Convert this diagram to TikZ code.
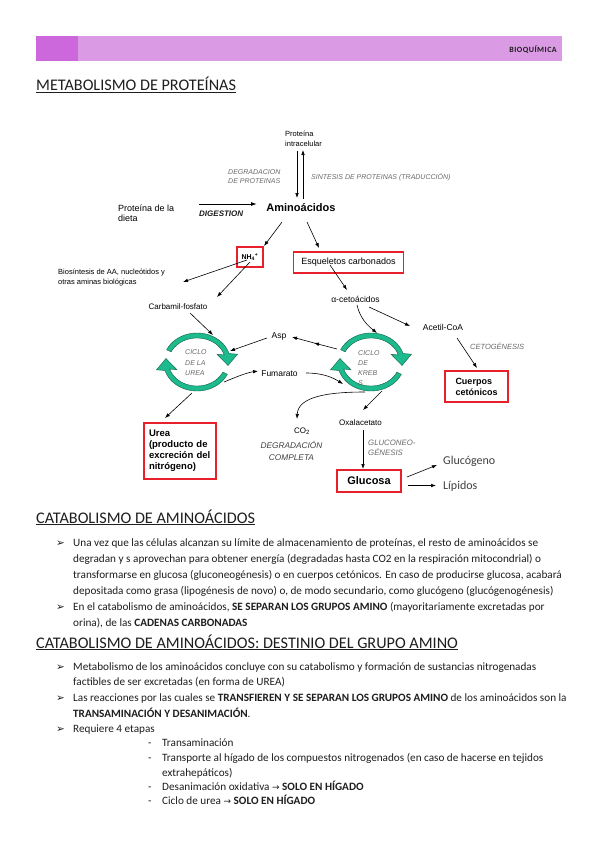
\documentclass[tikz,border=0pt]{standalone}
\usepackage{fontspec}
\setmainfont{Carlito}
\newfontfamily\arial{Liberation Sans}
\newfontfamily\dejavu{DejaVu Sans}
\usetikzlibrary{arrows.meta}
\definecolor{barc}{RGB}{218,155,228}
\definecolor{bardark}{RGB}{204,104,220}
\definecolor{boxred}{RGB}{232,32,42}
\definecolor{ringg}{RGB}{28,186,140}
\definecolor{ringd}{RGB}{20,95,70}
\definecolor{labg}{RGB}{105,105,105}
\definecolor{txt}{RGB}{30,30,30}
\tikzset{
 lbl/.style={font=\arial\fontsize{8.5}{10}\selectfont, inner sep=0pt},
 lbls/.style={font=\arial\fontsize{7.5}{10}\selectfont, inner sep=0pt, align=left},
 itl/.style={font=\arial\itshape\fontsize{7}{9}\selectfont, text=labg, inner sep=0pt, align=left},
 boxt/.style={draw=boxred, line width=1.2pt, fill=white, inner sep=0pt, font=\arial\bfseries\fontsize{9.5}{11}\selectfont},
 arr/.style={line width=0.6pt, -{Latex[length=5pt,width=3.6pt]}},
 body/.style={anchor=base west, inner sep=0pt, font=\fontsize{11.2}{13}\selectfont, text=txt},
 head/.style={anchor=base west, inner sep=0pt, font=\fontsize{16.2}{19}\selectfont, text=txt},
 bul/.style={anchor=base west, inner sep=0pt, font=\dejavu\fontsize{10.5}{12}\selectfont, text=txt},
 ring/.pic={
  \filldraw[fill=ringg, draw=ringd, line width=0.4pt]
    plot[domain=155:17, samples=40] ({33.5*cos(\x)},{-29*sin(\x)})
    -- (40.5,-7.8) -- (31,3.5) -- (20,-7.8)
    -- plot[domain=17:155, samples=40] ({28.5*cos(\x)},{-24*sin(\x)}) -- cycle;
  \filldraw[fill=ringg, draw=ringd, line width=0.4pt]
    plot[domain=-25:-163, samples=40] ({33.5*cos(\x)},{-29*sin(\x)})
    -- (-40.5,7.8) -- (-31,-3.5) -- (-20,7.8)
    -- plot[domain=-163:-25, samples=40] ({28.5*cos(\x)},{-24*sin(\x)}) -- cycle;
 }
}
\begin{document}
\begin{tikzpicture}[x=1pt,y=-1pt]
\useasboundingbox (0,0) rectangle (599,848);
\fill[white] (0,0) rectangle (599,848);
% header
\fill[barc] (36,36) rectangle (562,61);
\fill[bardark] (36,36) rectangle (78,61);
\node[anchor=east, inner sep=0pt, font=\bfseries\fontsize{8}{10}\selectfont\addfontfeature{LetterSpace=6}, text=txt] (hdr) at (557,49.5) {BIOQUÍMICA};
\node[head] (t1) at (36,91) {\underline{METABOLISMO DE PROTEÍNAS}};

% ---------- diagram ----------
\node[lbls, anchor=west] (pint) at (285,138.5) {Proteína\\intracelular};
\node[itl, anchor=west] (degr) at (228,177) {DEGRADACION\\DE PROTEINAS};
\node[itl, anchor=west] (sint) at (311,177.5) {SINTESIS DE PROTEINAS (TRADUCCIÓN)};
\node[font=\arial\fontsize{9}{10}\selectfont, inner sep=0pt, align=left, anchor=west] (diet) at (118,213) {Proteína de la\\dieta};
\node[font=\arial\bfseries\itshape\fontsize{8}{10}\selectfont, text=txt, inner sep=0pt, anchor=west] (dig) at (199,214) {DIGESTION};
\node[font=\arial\bfseries\fontsize{11}{13}\selectfont, inner sep=0pt] (amino) at (301,208) {Aminoácidos};

\node[boxt, minimum width=26pt, minimum height=20pt, font=\arial\bfseries\fontsize{7}{8}\selectfont] (nh4) at (250,257) {NH\textsubscript{4}\textsuperscript{+}};
\node[boxt, minimum width=110pt, minimum height=21pt, font=\arial\fontsize{9}{11}\selectfont] (esq) at (348.5,262.5) {Esqueletos carbonados};
\node[lbls, anchor=west] (bios) at (58,278) {Biosíntesis de AA, nucleótidos y\\otras aminas biológicas};
\node[lbl, font=\arial\fontsize{8}{10}\selectfont] (carb) at (178,307) {Carbamil-fosfato};
\node[lbl] (alfa) at (355.5,299) {α-cetoácidos};
\node[lbl] (acet) at (443,327.5) {Acetil-CoA};
\node[itl, anchor=west, font=\arial\itshape\fontsize{7.5}{9}\selectfont] (ceto) at (470,346) {CETOGÉNESIS};
\node[boxt, minimum width=63pt, minimum height=31pt, align=left, font=\arial\bfseries\fontsize{9}{11}\selectfont] (cuer) at (476.5,386.5) {Cuerpos\\cetónicos};
\node[lbl] (asp) at (279,336) {Asp};
\node[lbl] (fum) at (279.5,373.5) {Fumarato};

% cycles
\coordinate (ureaC) at (197,362);
\coordinate (krebsC) at (371,362);
\pic at (ureaC) {ring};
\pic at (krebsC) {ring};
\node[font=\arial\itshape\fontsize{7}{10.5}\selectfont, text=labg, inner sep=0pt, align=left, anchor=west] (ucyc) at (185,363) {CICLO\\DE LA\\UREA};
\node[font=\arial\itshape\fontsize{7}{10}\selectfont, text=labg, inner sep=0pt, align=left, anchor=west] (kcyc) at (358,368) {CICLO\\DE\\KREB\\S};

\node[boxt, minimum width=72pt, minimum height=56pt, align=left, text width=62pt] (urea) at (180,451) {Urea\\(producto de\\excreción del\\nitrógeno)};
\node[lbl, font=\arial\fontsize{8}{10}\selectfont] (co2) at (302,431) {CO\textsubscript{2}};
\node[font=\arial\itshape\fontsize{8.3}{12}\selectfont, text=txt!85, inner sep=0pt, align=center] (dcomp) at (291.5,451) {DEGRADACIÓN\\COMPLETA};
\node[lbl, font=\arial\fontsize{8}{10}\selectfont] (oxal) at (360.5,423) {Oxalacetato};
\node[itl, anchor=west, font=\arial\itshape\fontsize{7.8}{10}\selectfont] (gneo) at (368,448) {GLUCONEO-\\GÉNESIS};
\node[boxt, minimum width=64pt, minimum height=22pt, font=\arial\bfseries\fontsize{11}{13}\selectfont] (gluc) at (369,481) {Glucosa};
\node[anchor=base west, inner sep=0pt, font=\fontsize{12}{14}\selectfont, text=txt!85] (gcg) at (443,464) {Glucógeno};
\node[anchor=base west, inner sep=0pt, font=\fontsize{12}{14}\selectfont, text=txt!85] (lip) at (443,489) {Lípidos};

% connectors
\draw[line width=1pt, -{Latex[length=6pt,width=4pt]}] (199,204) -- (257,204);
\draw[arr] (297,151) -- (297,198);
\draw[arr] (303,199) -- (303,150);
\draw[arr] (282,222) -- (264,246);
\draw[arr] (307,222) -- (319,248);
\draw[arr] (247,260) -- (183,282);
\draw[arr] (250,262) -- (217,297);
\draw[arr] (330,265) -- (347,290);
\draw[arr] (357,305) .. controls (360,318) and (367,325) .. (377,333);
\draw[arr] (369,307) -- (410,326);
\draw[arr] (457,338) -- (477,368);
\draw[arr] (190,313) -- (213,335);
\draw[arr] (267,338) -- (230,351);
\draw[arr] (337,349) -- (314,343);
\draw[arr] (316,343.5) -- (292,337);
\draw[arr] (224,382) .. controls (234,378) and (245,373) .. (258,371);
\draw[arr] (306,373) .. controls (322,373) and (332,377) .. (343,384);
\draw[arr] (192,393) -- (165,418);
\draw[arr] (365,392) .. controls (330,392) and (298,396) .. (297,419);
\draw[arr] (382,391) -- (363,410);
\draw[arr] (363,430) -- (363,469);
\draw[arr] (407,477) -- (437,465);
\draw[arr] (408,485.5) -- (436,485.5);

% ---------- text ----------
\node[head] (t2) at (36,523) {\underline{CATABOLISMO DE AMINOÁCIDOS}};
\node[bul] (b1) at (56,546) {➢};
\node[body] (l1) at (73,546) {Una vez que las células alcanzan su límite de almacenamiento de proteínas, el resto de aminoácidos se};
\node[body] (l2) at (73,562) {degradan y s aprovechan para obtener energía (degradadas hasta CO2 en la respiración mitocondrial) o};
\node[body] (l3) at (73,578) {transformarse en glucosa (gluconeogénesis) o en cuerpos cetónicos. En caso de producirse glucosa, acabará};
\node[body] (l4) at (73,594) {depositada como grasa (lipogénesis de novo) o, de modo secundario, como glucógeno (glucógenogénesis)};
\node[bul] (b2) at (56,610) {➢};
\node[body] (l5) at (73,610) {En el catabolismo de aminoácidos, \textbf{SE SEPARAN LOS GRUPOS AMINO} (mayoritariamente excretadas por};
\node[body] (l6) at (73,626) {orina), de las \textbf{CADENAS CARBONADAS}};

\node[head] (t3) at (36,648) {\underline{CATABOLISMO DE AMINOÁCIDOS: DESTINIO DEL GRUPO AMINO}};
\node[bul] (b3) at (56,670) {➢};
\node[body] (l7) at (73,670) {Metabolismo de los aminoácidos concluye con su catabolismo y formación de sustancias nitrogenadas};
\node[body] (l8) at (73,685) {factibles de ser excretadas (en forma de UREA)};
\node[bul] (b4) at (56,701) {➢};
\node[body] (l9) at (73,701) {Las reacciones por las cuales se \textbf{TRANSFIEREN Y SE SEPARAN LOS GRUPOS AMINO} de los aminoácidos son la};
\node[body] (l10) at (73,717) {\textbf{TRANSAMINACIÓN Y DESANIMACIÓN}.};
\node[bul] (b5) at (56,732) {➢};
\node[body] (l11) at (73,732) {Requiere 4 etapas};
\node[body] (d1) at (148,746) {-};
\node[body] (l12) at (162,746) {Transaminación};
\node[body] (d2) at (148,761) {-};
\node[body] (l13) at (162,761) {Transporte al hígado de los compuestos nitrogenados (en caso de hacerse en tejidos};
\node[body] (l14) at (162,776) {extrahepáticos)};
\node[body] (d3) at (148,790) {-};
\node[body] (l15) at (162,790) {Desanimación oxidativa {\dejavu\fontsize{9}{11}\selectfont →} \textbf{SOLO EN HÍGADO}};
\node[body] (d4) at (148,804) {-};
\node[body] (l16) at (162,804) {Ciclo de urea {\dejavu\fontsize{9}{11}\selectfont →} \textbf{SOLO EN HÍGADO}};
\end{tikzpicture}
\end{document}
